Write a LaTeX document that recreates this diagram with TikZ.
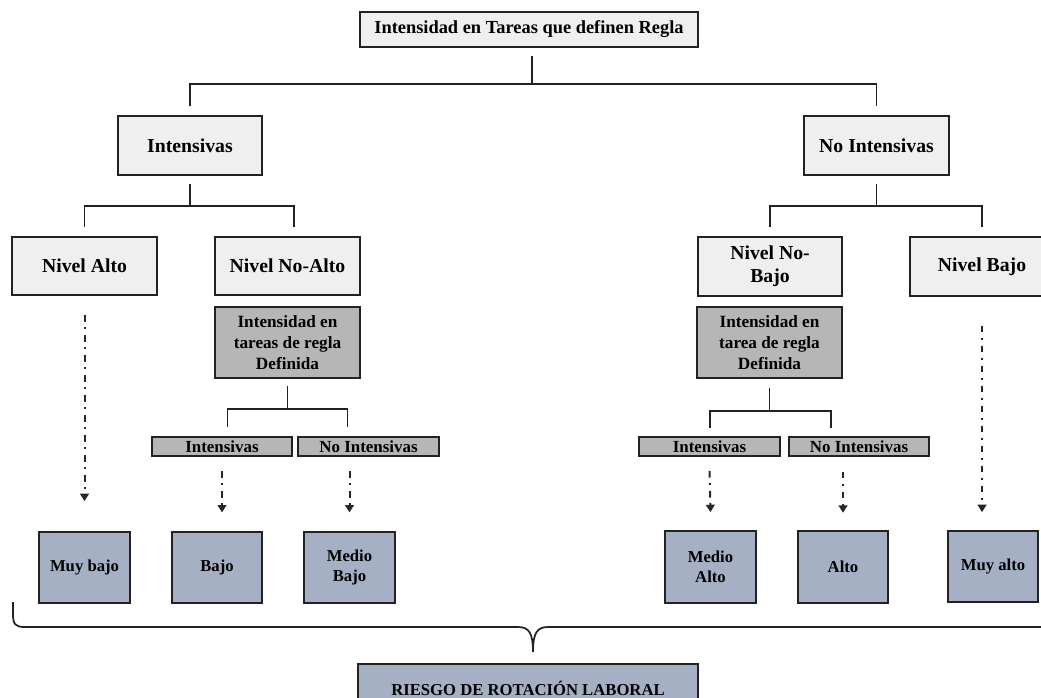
\documentclass[tikz,border=0pt]{standalone}
\usepackage{fontspec}
\setmainfont{Liberation Serif}
\usetikzlibrary{arrows.meta,calc}
\definecolor{edge}{HTML}{222222}
\definecolor{lightfill}{HTML}{EFEFEF}
\definecolor{darkfill}{HTML}{B6B6B6}
\definecolor{bluefill}{HTML}{A5B0C5}
\tikzset{
  bx/.style={draw=edge, line width=1.4pt, inner sep=0pt, align=center, text=black},
  lbox/.style={bx, fill=lightfill},
  gbox/.style={bx, fill=darkfill},
  bbox/.style={bx, fill=bluefill},
  conn/.style={draw=edge, line width=1.4pt},
  arr/.style={draw=black!85, line width=1.5pt, dash pattern=on 5pt off 4pt on 1.5pt off 4.5pt,
    -{Triangle[width=6.5pt,length=5.5pt]}},
  brace/.style={draw=edge, line width=1.3pt},
  ftop/.style={font=\bfseries\fontsize{13.8}{16}\selectfont},
  flev/.style={font=\bfseries\fontsize{14.8}{17.2}\selectfont},
  fgray/.style={font=\bfseries\fontsize{12.9}{15.6}\selectfont},
  fsmall/.style={font=\bfseries\fontsize{12.7}{14}\selectfont},
  fbot/.style={font=\bfseries\fontsize{12.5}{15}\selectfont},
}
\begin{document}
\begin{tikzpicture}[x=0.75pt,y=-0.75pt]
\useasboundingbox (0,0) rectangle (1041,697);
\clip (0,0) rectangle (1041,697);
% level 1
\node[lbox, ftop, minimum width=253.5pt, minimum height=26.25pt] (top) at (529,29.5) {Intensidad en Tareas que definen Regla};
% level 2
\node[lbox, flev, minimum width=108pt, minimum height=44.25pt] (int) at (190,145.5) {Intensivas};
\node[lbox, flev, minimum width=108.75pt, minimum height=44.25pt] (noint) at (876.5,145.5) {No Intensivas};
% level 3
\node[lbox, flev, minimum width=108.75pt, minimum height=43.5pt] (nalto) at (84.5,266) {Nivel Alto};
\node[lbox, flev, minimum width=108.75pt, minimum height=43.5pt] (nnoalto) at (287.5,266) {Nivel No-Alto};
\node[lbox, flev, minimum width=108pt, minimum height=44.25pt] (nnobajo) at (770,266.5) {Nivel No-\\Bajo};
\node[lbox, flev, minimum width=108pt, minimum height=44.25pt] (nbajo) at (982,266.5) {Nivel Bajo};
% gray boxes
\node[gbox, fgray, minimum width=108.75pt, minimum height=53.25pt] (g1) at (287.5,342.5) {Intensidad en\\tareas de regla\\Definida};
\node[gbox, fgray, minimum width=108.75pt, minimum height=53.25pt] (g2) at (769.5,342.5) {Intensidad en\\tarea de regla\\Definida};
% small boxes
\node[gbox, fsmall, minimum width=105pt, minimum height=14.25pt] (si1) at (222,446.5) {Intensivas};
\node[gbox, fsmall, minimum width=105.75pt, minimum height=14.25pt] (sn1) at (368.5,446.5) {No Intensivas};
\node[gbox, fsmall, minimum width=105.75pt, minimum height=14.25pt] (si2) at (709.5,446.5) {Intensivas};
\node[gbox, fsmall, minimum width=105pt, minimum height=14.25pt] (sn2) at (859,446.5) {No Intensivas};
% bottom boxes
\node[bbox, fbot, minimum width=68.25pt, minimum height=53.25pt] (mb) at (84.5,567.5) {Muy bajo};
\node[bbox, fbot, minimum width=67.5pt, minimum height=53.25pt] (bajo) at (217,567.5) {Bajo};
\node[bbox, fbot, minimum width=68.25pt, minimum height=53.25pt] (mbajo) at (349.5,567.5) {Medio\\Bajo};
\node[bbox, fbot, minimum width=68.25pt, minimum height=54pt] (malto) at (710.5,567) {Medio\\Alto};
\node[bbox, fbot, minimum width=67.5pt, minimum height=54pt] (alto) at (843,567) {Alto};
\node[bbox, fbot, minimum width=67.5pt, minimum height=53.25pt] (muyalto) at (993,566.5) {Muy alto};
% final
\node[bbox, fbot, minimum width=255pt, minimum height=36pt] (riesgo) at (528,688) {RIESGO DE ROTACIÓN LABORAL};

% forks
\coordinate (f1) at (532,84);
\draw[conn] ([xshift=2.25pt,yshift=-6pt]top.south) -- ([xshift=2.25pt]top.south |- f1);
\draw[conn] ([yshift=6.75pt]int.north) -- (int.north |- f1) -- (noint.north |- f1) -- ([yshift=6.75pt]noint.north);

\coordinate (f2) at (190,206);
\draw[conn] ([yshift=-6pt]int.south) -- (int.south |- f2);
\draw[conn] ([yshift=6.75pt]nalto.north) -- (nalto.north |- f2) -- ([xshift=4.9pt]nnoalto.north |- f2) -- ([xshift=4.9pt,yshift=6.75pt]nnoalto.north);

\coordinate (f3) at (876,206);
\draw[conn] ([yshift=-6pt]noint.south) -- (noint.south |- f3);
\draw[conn] ([yshift=6.75pt]nnobajo.north) -- (nnobajo.north |- f3) -- (nbajo.north |- f3) -- ([yshift=6.75pt]nbajo.north);

\coordinate (f4) at (288,409);
\draw[conn] ([yshift=-5.25pt]g1.south) -- (g1.south |- f4);
\draw[conn] ([xshift=-45pt,yshift=6.75pt]g1.south |- si1.north) -- ([xshift=-45pt]g1.south |- f4) -- ([xshift=45pt]g1.south |- f4) -- ([xshift=45pt,yshift=6.75pt]g1.south |- sn1.north);

\coordinate (f5) at (769,411);
\draw[conn] ([yshift=-6.75pt]g2.south) -- (g2.south |- f5);
\draw[conn] ([xshift=-44.6pt,yshift=6.2pt]g2.south |- si2.north) -- ([xshift=-44.6pt]g2.south |- f5) -- ([xshift=46pt]g2.south |- f5) -- ([xshift=46pt,yshift=6.2pt]g2.south |- sn2.north);

% dash-dot arrows
\draw[arr] ([yshift=-14.25pt]nalto.south) -- ([yshift=22.5pt]mb.north);
\draw[arr] ([yshift=-10.5pt]si1.south) -- ([yshift=14pt]si1.south |- bajo.north);
\draw[arr] ([yshift=-10.5pt]mbajo.north |- sn1.south) -- ([yshift=14pt]mbajo.north);
\draw[arr] ([yshift=-10.5pt]si2.south) -- ([yshift=13.5pt]malto.north);
\draw[arr] ([yshift=-11pt]alto.north |- sn2.south) -- ([yshift=13pt]alto.north);
\draw[arr] ([yshift=-21.5pt]nbajo.south) -- ([yshift=13.5pt]nbajo.south |- muyalto.north);

% brace
\draw[brace] (13,602) -- (13,614) .. controls (13,624) and (15,627) .. (25,627)
  -- (518,627) .. controls (529,627) and (533,633) .. (533,652)
  .. controls (533,633) and (537,627) .. (548,627) -- (1060,627);
\end{tikzpicture}
\end{document}
